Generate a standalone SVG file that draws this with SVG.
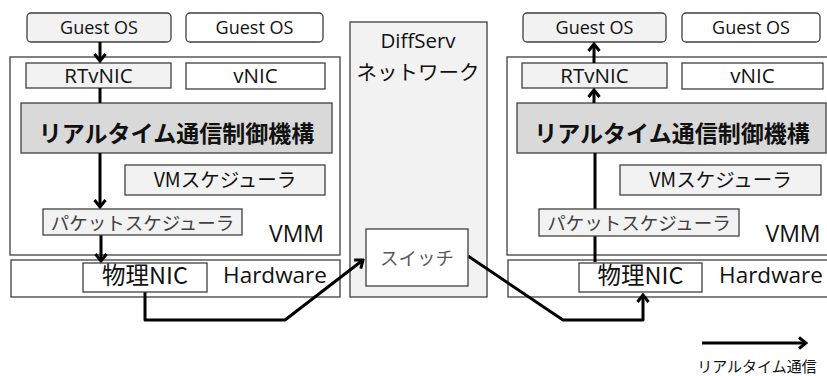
<svg xmlns="http://www.w3.org/2000/svg" width="827" height="376" viewBox="0 0 827 376">
  <defs>
    <style>
      text { font-family: "Noto Sans CJK JP", "Liberation Sans", sans-serif; fill: #111; text-anchor: middle; }
      .lat { font-family: "Open Sans", "Noto Sans", "Liberation Sans", sans-serif; }
      .box { stroke: #3f3f3f; stroke-width: 1.3; fill: #ffffff; }
      .lite { fill: #f2f2f2; }
      .mid { fill: #d9d9d9; }
      .os { font-size: 18px; }
      .nic { font-size: 20.5px; }
      .big { font-size: 23px; font-weight: bold; }
      .sched { font-size: 18.5px; }
      .vm { font-size: 19.5px; }
      .soft { fill: #404040; }
      .hw { font-size: 22.5px; }
      .vmm { font-size: 23px; }
      .phy { font-size: 23.5px; }
      .flow { stroke: #000; stroke-width: 3; fill: none; stroke-linejoin: round; }
    </style>
    <marker id="head" viewBox="-10 -8 12 16" refX="0" refY="0" markerWidth="12" markerHeight="16" markerUnits="userSpaceOnUse" orient="auto">
      <path d="M-7,-5.5 L0,0 L-7,5.5" fill="none" stroke="#000" stroke-width="3" stroke-linejoin="miter"/>
    </marker>
  </defs>

  <!-- sending host -->
  <g id="host-left">
    <g id="vmm-left">
      <rect class="box" x="10" y="57" width="330" height="198"/>
      <text x="296.5" y="242" class="lat vmm">VMM</text>
    </g>
    <g id="guest-os-l1">
      <rect class="box lite" x="27" y="13" width="144" height="29" rx="4"/>
      <text x="99" y="34" class="lat os">Guest OS</text>
    </g>
    <g id="guest-os-l2">
      <rect class="box" x="186" y="13" width="137" height="29" rx="4"/>
      <text x="254.5" y="34" class="lat os">Guest OS</text>
    </g>
    <g id="rtvnic-l">
      <rect class="box lite" x="26" y="63" width="145" height="25"/>
      <text x="98.5" y="83" class="lat nic">RTvNIC</text>
    </g>
    <g id="vnic-l">
      <rect class="box" x="186" y="63" width="139" height="26"/>
      <text x="255.5" y="83" class="lat nic">vNIC</text>
    </g>
    <g id="rtctl-l">
      <rect class="box mid" x="21" y="103" width="311" height="50"/>
      <text x="176.5" y="142" class="big">リアルタイム通信制御機構</text>
    </g>
    <g id="vmsched-l">
      <rect class="box lite" x="125" y="165" width="200" height="30"/>
      <text x="225" y="187" class="vm">VMスケジューラ</text>
    </g>
    <g id="hw-left">
      <rect class="box" x="11" y="260" width="329" height="37"/>
      <text x="275" y="283" class="lat hw">Hardware</text>
    </g>
  </g>

  <!-- receiving host -->
  <g id="host-right">
    <g id="vmm-right">
      <rect class="box" x="507" y="57" width="340" height="198"/>
      <text x="793" y="242" class="lat vmm">VMM</text>
    </g>
    <g id="guest-os-r1">
      <rect class="box lite" x="523" y="13" width="143" height="29" rx="4"/>
      <text x="594.5" y="34" class="lat os">Guest OS</text>
    </g>
    <g id="guest-os-r2">
      <rect class="box" x="682" y="13" width="138" height="29" rx="4"/>
      <text x="751" y="34" class="lat os">Guest OS</text>
    </g>
    <g id="rtvnic-r">
      <rect class="box lite" x="522" y="63" width="145" height="25"/>
      <text x="594.5" y="83" class="lat nic">RTvNIC</text>
    </g>
    <g id="vnic-r">
      <rect class="box" x="682" y="63" width="141" height="26"/>
      <text x="752.5" y="83" class="lat nic">vNIC</text>
    </g>
    <g id="rtctl-r">
      <rect class="box mid" x="517" y="103" width="309" height="50"/>
      <text x="672" y="142" class="big">リアルタイム通信制御機構</text>
    </g>
    <g id="vmsched-r">
      <rect class="box lite" x="620" y="165" width="201" height="30"/>
      <text x="720.5" y="187" class="vm">VMスケジューラ</text>
    </g>
    <g id="hw-right">
      <rect class="box" x="508" y="260" width="340" height="37"/>
      <text x="771" y="283" class="lat hw">Hardware</text>
    </g>
  </g>

  <!-- network -->
  <g id="diffserv">
    <rect class="box lite" x="350" y="22" width="137" height="275"/>
    <text x="418" y="48" class="lat" style="font-size:20.5px">DiffServ</text>
    <text x="418" y="80" style="font-size:20.5px">ネットワーク</text>
  </g>

  <!-- real-time traffic path -->
  <g id="connectors">
    <line class="flow" x1="100" y1="42" x2="100" y2="61" marker-end="url(#head)"/>
    <line class="flow" x1="100" y1="88" x2="100" y2="103"/>
    <line class="flow" x1="100" y1="153" x2="100" y2="207" marker-end="url(#head)"/>
    <line class="flow" x1="101" y1="235" x2="101" y2="261" marker-end="url(#head)"/>
    <polyline class="flow" points="145,292 145,320 285,320 363,260" marker-end="url(#head)"/>
    <polyline class="flow" points="468,256 563,320 643,320 643,295" marker-end="url(#head)"/>
    <line class="flow" x1="595" y1="262" x2="595" y2="153"/>
    <line class="flow" x1="594" y1="103" x2="594" y2="90" marker-end="url(#head)"/>
    <line class="flow" x1="594" y1="63" x2="594" y2="44" marker-end="url(#head)"/>
    <line class="flow" x1="702" y1="343" x2="806" y2="343" marker-end="url(#head)"/>
  </g>

  <g id="pktsched-l">
    <rect class="box lite" x="43" y="209" width="199" height="26"/>
    <text x="142.5" y="230" class="sched soft">パケットスケジューラ</text>
  </g>
  <g id="pktsched-r">
    <rect class="box lite" x="539" y="209" width="200" height="27"/>
    <text x="639" y="230" class="sched soft">パケットスケジューラ</text>
  </g>
  <g id="nic-l">
    <rect class="box" x="83" y="263" width="124" height="29"/>
    <text x="145" y="284" class="phy">物理NIC</text>
  </g>
  <g id="nic-r">
    <rect class="box" x="579" y="263" width="123" height="29"/>
    <text x="640.5" y="284" class="phy">物理NIC</text>
  </g>
  <g id="switch">
    <rect class="box" x="366" y="229" width="102" height="57"/>
    <text x="417" y="265" style="font-size:18.5px; fill:#595959">スイッチ</text>
  </g>

  <g id="legend">
    <text x="757" y="372" style="font-size:15px">リアルタイム通信</text>
  </g>
</svg>
